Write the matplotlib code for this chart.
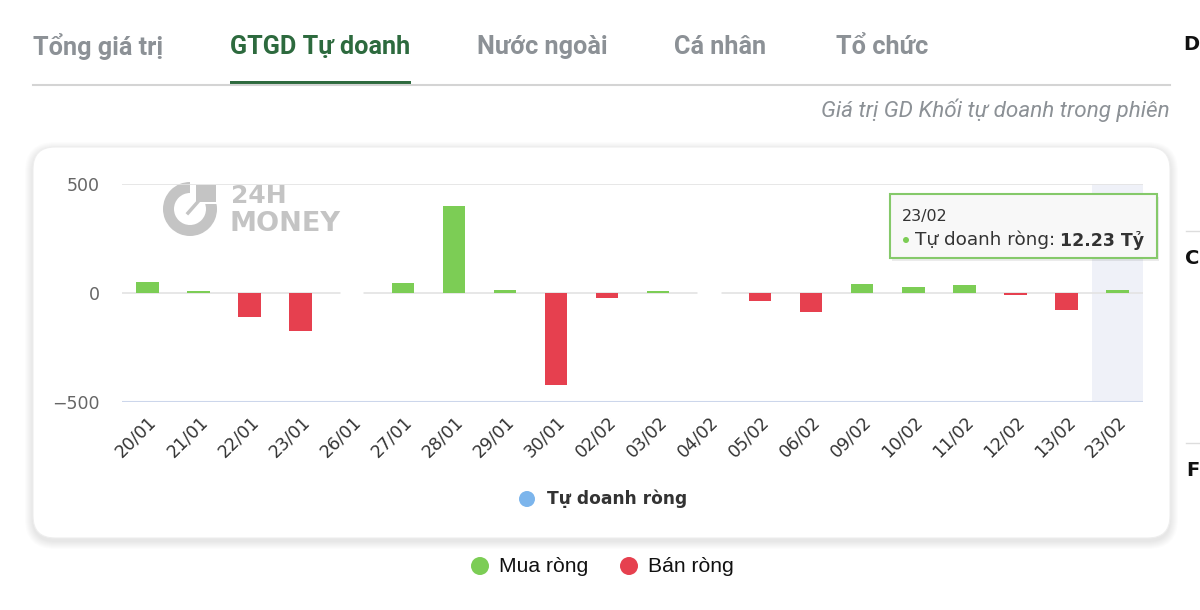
import matplotlib
matplotlib.use('Agg')
import matplotlib.pyplot as plt
import numpy as np
from matplotlib.patches import FancyBboxPatch, Circle, Wedge, Rectangle

# dữ liệu tự doanh ròng (tỷ đồng)
dates = ['20/01', '21/01', '22/01', '23/01', '26/01', '27/01', '28/01', '29/01', '30/01', '02/02',
         '03/02', '04/02', '05/02', '06/02', '09/02', '10/02', '11/02', '12/02', '13/02', '23/02']
values = [50, 8, -112, -173, np.nan, 44, 398, 16, -421, -25,
          7, np.nan, -38, -86, 42, 29, 36, -10, -77, 12.23]
tabs = ['Tổng giá trị', 'GTGD Tự doanh', 'Nước ngoài', 'Cá nhân', 'Tổ chức']
tab_x = [33, 230, 477, 674, 836]
yticks = [-500, 0, 500]

GREEN = '#7ccd55'
RED = '#e6404f'
W, H = 1200, 610

fig = plt.figure(figsize=(12, 6.1), dpi=100)
fig.patch.set_facecolor('white')

# nền, toạ độ pixel
bg = fig.add_axes([0, 0, 1, 1], zorder=0)
bg.set_xlim(0, W)
bg.set_ylim(H, 0)
bg.axis('off')

# tabs
for i, (t, x) in enumerate(zip(tabs, tab_x)):
    active = i == 1
    bg.text(x, 47, t, fontsize=18.2, fontweight='bold', family=['Roboto', 'DejaVu Sans'],
            color='#2d6a3e' if active else '#8c9196', va='center', ha='left')
bg.plot([33, 1170], [85, 85], color='#d4d4d4', lw=1.5)
bg.add_patch(Rectangle((230, 80.5), 181, 3.5, color='#2d6a3e', lw=0))
bg.text(1170, 110, 'Giá trị GD Khối tự doanh trong phiên', fontsize=16.2, style='italic',
        family=['Roboto', 'DejaVu Sans'], color='#8c9196', ha='right', va='center')

# phần bị cắt bên phải
for yy, ch in [(45, 'D'), (258, 'C'), (470, 'F')]:
    bg.text(1199, yy, ch, fontsize=14, fontweight='bold', color='#111', va='center', ha='right')
for yy in [231, 443]:
    bg.plot([1186, 1200], [yy, yy], color='#dddddd', lw=1)

# thẻ biểu đồ với bóng
for k in range(8, 0, -1):
    bg.add_patch(FancyBboxPatch((33 - k, 147 - k + 3), 1137 + 2 * k, 391 + 2 * k,
                                boxstyle='round,pad=0,rounding_size=%d' % (22 + k),
                                fc='#000000', ec='none', alpha=0.012))
bg.add_patch(FancyBboxPatch((33, 147), 1137, 391, boxstyle='round,pad=0,rounding_size=22',
                            fc='white', ec='#eeeeee', lw=0.8))

# logo chìm
bg.add_patch(Wedge((190, 209), 27, 0, 360, width=11, fc='#c4c4c4', ec='none'))
bg.add_patch(Rectangle((190, 182), 28, 22, fc='white', ec='none'))
bg.add_patch(Rectangle((196, 185), 20, 17, fc='#c4c4c4', ec='none'))
bg.plot([188, 203], [213, 196], color='#c4c4c4', lw=2.5)
bg.text(231, 196, '24H', fontsize=18, fontweight='bold', color='#c4c4c4', va='center', ha='left')
bg.text(229, 224, 'MONEY', fontsize=19.5, fontweight='bold', color='#c4c4c4', va='center', ha='left')

# biểu đồ
ax = fig.add_axes([122 / W, 1 - 402 / H, (1143 - 122) / W, (402 - 184) / H], zorder=2)
ax.patch.set_alpha(0)
x = np.arange(len(dates))
vals = np.array(values, dtype=float)
ax.axvspan(len(dates) - 1.5, len(dates) - 0.5, color='#eff1f8', zorder=0, lw=0)
for yv in [0, 500]:
    ax.axhline(yv, color='#e3e3e3', lw=1.2, zorder=1)
ax.axhline(-500, color='#ccd6eb', lw=1.5, zorder=1)
colors = [GREEN if v >= 0 else RED for v in np.nan_to_num(vals)]
ax.bar(x, np.nan_to_num(vals), width=0.44, color=colors, zorder=3)
# ô trống (không có dữ liệu) che đường 0
nulls = x[np.isnan(vals)]
ax.bar(nulls, [0] * len(nulls), width=0.46, edgecolor='white', linewidth=2.5, color='white', zorder=2)

ax.set_xlim(-0.5, len(dates) - 0.5)
ax.set_ylim(-500, 500)
ax.set_yticks(yticks)
ax.set_yticklabels(['\u2212500', '0', '500'], color='#666666', fontsize=12.5)
ax.set_xticks(x)
ax.set_xticklabels(dates, rotation=45, ha='right', rotation_mode='anchor', color='#333333', fontsize=12.5)
ax.tick_params(axis='y', length=0, pad=16)
ax.tick_params(axis='x', length=0, pad=8)
for s in ax.spines.values():
    s.set_visible(False)

# chú giải
bg.add_patch(Circle((527, 499), 8, fc='#7cb5ec', ec='none'))
bg.text(547, 499, 'Tự doanh ròng', fontsize=12.3, fontweight='bold', color='#333333', va='center', ha='left')
bg.add_patch(Circle((480, 566), 9, fc=GREEN, ec='none'))
bg.text(499, 566, 'Mua ròng', fontsize=15.2, family=['Liberation Sans', 'DejaVu Sans'],
        color='#111111', va='center', ha='left')
bg.add_patch(Circle((629, 566), 9, fc=RED, ec='none'))
bg.text(648, 566, 'Bán ròng', fontsize=15.2, family=['Liberation Sans', 'DejaVu Sans'],
        color='#111111', va='center', ha='left')

# tooltip
fg = fig.add_axes([0, 0, 1, 1], zorder=5)
fg.set_xlim(0, W)
fg.set_ylim(H, 0)
fg.axis('off')
fg.add_patch(Rectangle((892, 197), 267, 64, fc='#000000', ec='none', alpha=0.08))
fg.add_patch(Rectangle((890, 194), 267, 64, fc='#f8f8f8', ec='#85c96a', lw=1.5))
fg.text(902, 217, dates[-1], fontsize=11.5, color='#333333', va='center', ha='left')
fg.add_patch(Circle((906, 240), 3, fc=GREEN, ec='none'))
fg.text(915, 240, 'Tự doanh ròng:', fontsize=13.2, color='#333333', va='center', ha='left')
fg.text(1144, 240, '%.2f Tỷ' % values[-1], fontsize=12.5, fontweight='bold', color='#333333',
        va='center', ha='right')

fig.savefig('out.png', dpi=100)
